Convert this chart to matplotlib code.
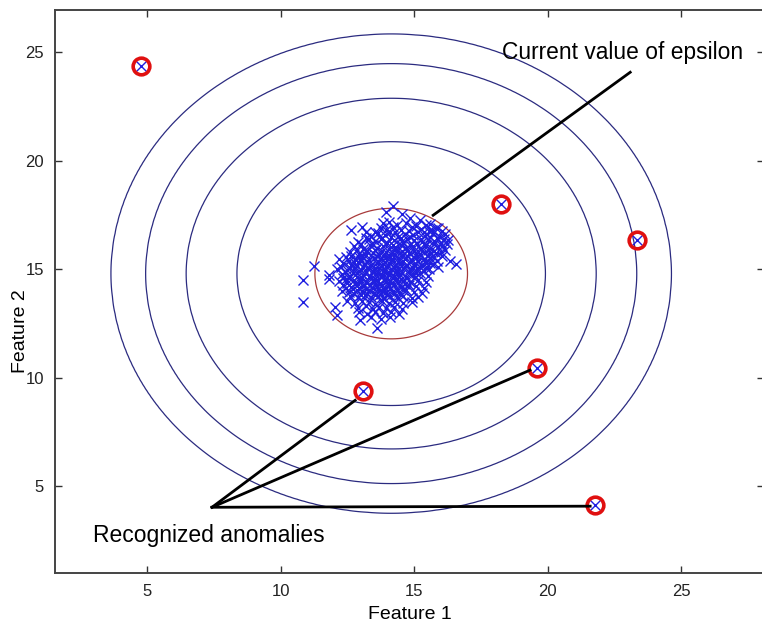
import numpy as np
import matplotlib
matplotlib.use("Agg")
import matplotlib.pyplot as plt

plt.rcParams['font.family'] = ['Liberation Sans', 'DejaVu Sans']

# Training examples (Feature 1, Feature 2)
cluster_x = [
    14.20,
    14.55, 13.95,
    14.05, 14.85, 15.20, 15.45,
    13.85, 14.35, 14.70, 15.05, 15.60, 15.90,
    12.65, 13.05, 13.20, 13.75, 14.20, 14.50, 14.90, 15.25, 15.55, 15.80, 16.05,
    13.40, 13.65, 13.90, 14.10, 14.40, 14.65, 14.95, 15.15, 15.40, 15.70, 15.95, 16.22,
    12.90, 13.30, 13.55, 13.80, 14.00, 14.25, 14.55, 14.75, 15.00, 15.30, 15.50, 15.75, 16.00, 16.25,
    12.75, 13.10, 13.35, 13.60, 13.85, 14.05, 14.30, 14.50, 14.70, 14.95, 15.20, 15.45, 15.65, 15.90, 16.15,
    12.60, 12.95, 13.20, 13.45, 13.70, 13.95, 14.15, 14.35, 14.60, 14.80, 15.05, 15.30, 15.55, 15.80, 16.05,
    12.20, 12.45, 12.80, 13.05, 13.30, 13.50, 13.75, 13.95, 14.20, 14.40, 14.65, 14.90, 15.10, 15.35, 15.60, 15.85, 16.35,
    11.25, 12.35, 12.65, 12.90, 13.15, 13.40, 13.60, 13.85, 14.05, 14.30, 14.50, 14.75, 15.00, 15.25, 15.45, 15.70, 16.55,
    12.10, 12.50, 12.75, 13.00, 13.25, 13.45, 13.70, 13.90, 14.15, 14.35, 14.60, 14.85, 15.10, 15.35, 15.55, 15.90,
    11.80, 12.30, 12.60, 12.85, 13.10, 13.35, 13.55, 13.80, 14.00, 14.25, 14.45, 14.70, 14.95, 15.20, 15.50,
    10.85, 11.80, 12.20, 12.45, 12.70, 12.95, 13.20, 13.45, 13.65, 13.90, 14.10, 14.35, 14.60, 14.85, 15.15, 15.45,
    12.35, 12.65, 12.90, 13.10, 13.35, 13.60, 13.80, 14.05, 14.25, 14.50, 14.80, 15.05, 15.35,
    12.30, 12.55, 12.85, 13.05, 13.30, 13.50, 13.75, 13.95, 14.20, 14.45, 14.70, 15.00, 15.30,
    12.60, 12.90, 13.15, 13.40, 13.65, 13.85, 14.10, 14.35, 14.60, 14.90, 15.15,
    10.85, 12.50, 12.80, 13.05, 13.30, 13.55, 13.80, 14.05, 14.30, 14.60, 14.90,
    12.05, 12.90, 13.20, 13.45, 13.70, 13.95, 14.25, 14.55,
    12.95, 13.25, 13.55, 13.85, 14.15, 14.45,
    12.10, 12.98, 13.40, 13.75, 14.10,
    13.60,
    13.55, 13.95, 14.30, 14.80, 15.35, 15.65, 16.15,
    13.20, 13.75, 14.15, 14.50, 14.85, 15.25, 15.60, 15.85, 16.10,
    13.00, 13.45, 13.95, 14.20, 14.60, 14.85, 15.10, 15.40, 15.75, 16.05,
    12.85, 13.25, 13.55, 13.80, 14.25, 14.55, 14.75, 15.00, 15.25, 15.50, 15.75, 16.00,
    12.65, 12.95, 13.20, 13.60, 13.85, 14.10, 14.30, 14.55, 14.75, 15.00, 15.25, 15.50, 15.75,
    12.55, 12.75, 13.00, 13.25, 13.65, 13.90, 14.15, 14.40, 14.60, 14.85, 15.15, 15.40, 15.60,
    12.25, 12.60, 12.85, 13.10, 13.35, 13.55, 13.80, 14.00, 14.25, 14.45, 14.70, 14.95, 15.20, 15.45,
    12.40, 12.70, 12.95, 13.20, 13.45, 13.65, 13.85, 14.10, 14.30, 14.55, 14.80, 15.05,
    12.35, 12.55, 12.85, 13.05, 13.30, 13.55, 13.75, 14.00, 14.20, 14.50, 14.75, 15.00,
    12.50, 12.80, 13.00, 13.25, 13.50, 13.70, 13.95, 14.15, 14.40, 14.65,
    12.45, 12.70, 12.95, 13.20, 13.45, 13.65, 13.90, 14.10, 14.35, 14.60,
    12.75, 13.00, 13.25, 13.55, 13.75, 14.00, 14.25, 14.50,
]
cluster_y = [
    17.90,
    17.55, 17.62,
    17.20, 17.35, 17.25, 17.05,
    17.12, 17.02, 17.15, 16.98, 17.08, 16.90,
    16.80, 16.95, 16.71, 16.88, 16.93, 16.82, 16.97, 16.86, 16.78, 16.92, 16.75,
    16.55, 16.68, 16.60, 16.72, 16.50, 16.63, 16.57, 16.70, 16.52, 16.66, 16.48, 16.18,
    16.25, 16.38, 16.30, 16.42, 16.22, 16.35, 16.28, 16.40, 16.33, 16.24, 16.37, 16.31, 16.20, 16.35,
    16.05, 15.95, 16.10, 15.98, 16.08, 15.92, 16.02, 16.12, 15.96, 16.06, 15.99, 16.11, 15.94, 16.04, 15.90,
    15.78, 15.70, 15.82, 15.74, 15.68, 15.80, 15.72, 15.85, 15.66, 15.77, 15.71, 15.83, 15.69, 15.76, 15.62,
    15.45, 15.55, 15.48, 15.58, 15.42, 15.52, 15.47, 15.56, 15.44, 15.53, 15.49, 15.41, 15.57, 15.46, 15.51, 15.40, 15.38,
    15.15, 15.28, 15.20, 15.32, 15.24, 15.18, 15.30, 15.22, 15.27, 15.16, 15.29, 15.21, 15.26, 15.19, 15.31, 15.23, 15.25,
    15.02, 14.95, 15.06, 14.98, 15.04, 14.92, 15.08, 14.97, 15.03, 14.93, 15.05, 14.99, 15.07, 14.94, 15.01, 15.10,
    14.72, 14.78, 14.70, 14.82, 14.74, 14.68, 14.80, 14.73, 14.85, 14.71, 14.79, 14.66, 14.76, 14.81, 14.70,
    14.49, 14.57, 14.45, 14.55, 14.48, 14.58, 14.42, 14.52, 14.46, 14.56, 14.44, 14.53, 14.47, 14.40, 14.51, 14.43,
    14.28, 14.20, 14.30, 14.22, 14.26, 14.18, 14.29, 14.24, 14.32, 14.19, 14.27, 14.21, 14.15,
    14.02, 13.95, 14.05, 13.98, 14.03, 13.92, 14.06, 13.97, 14.01, 13.94, 14.04, 13.96, 13.90,
    13.78, 13.72, 13.80, 13.70, 13.76, 13.68, 13.79, 13.73, 13.75, 13.66, 13.71,
    13.49, 13.52, 13.45, 13.55, 13.48, 13.42, 13.53, 13.46, 13.50, 13.44, 13.47,
    13.26, 13.22, 13.30, 13.18, 13.27, 13.21, 13.25, 13.17,
    13.02, 12.95, 13.05, 12.98, 13.03, 12.92,
    12.88, 12.65, 12.78, 12.72, 12.80,
    12.27,
    16.74, 16.79, 16.70, 16.77, 16.72, 16.80, 16.62,
    16.46, 16.41, 16.49, 16.43, 16.47, 16.40, 16.50, 16.44, 16.38,
    16.16, 16.12, 16.18, 16.14, 16.19, 16.11, 16.17, 16.13, 16.15, 16.08,
    15.88, 15.84, 15.91, 15.86, 15.89, 15.83, 15.90, 15.85, 15.92, 15.87, 15.82, 15.80,
    15.62, 15.58, 15.65, 15.60, 15.63, 15.57, 15.64, 15.59, 15.61, 15.56, 15.66, 15.60, 15.55,
    15.38, 15.34, 15.40, 15.36, 15.39, 15.33, 15.41, 15.35, 15.37, 15.32, 15.39, 15.35, 15.30,
    15.12, 15.08, 15.14, 15.10, 15.13, 15.07, 15.15, 15.09, 15.11, 15.06, 15.13, 15.08, 15.12, 15.05,
    14.88, 14.84, 14.90, 14.86, 14.89, 14.83, 14.91, 14.85, 14.87, 14.82, 14.88, 14.84,
    14.62, 14.58, 14.64, 14.60, 14.63, 14.57, 14.65, 14.59, 14.61, 14.56, 14.62, 14.58,
    14.38, 14.34, 14.40, 14.36, 14.39, 14.33, 14.41, 14.35, 14.37, 14.32,
    14.12, 14.08, 14.14, 14.10, 14.13, 14.07, 14.15, 14.09, 14.11, 14.06,
    13.85, 13.81, 13.87, 13.83, 13.86, 13.80, 13.88, 13.82,
]

# Examples flagged as anomalies
anomaly_x = [4.78, 18.26, 23.35, 13.09, 19.61, 21.78]
anomaly_y = [24.35, 18.00, 16.34, 9.38, 10.44, 4.12]

# Fitted Gaussian parameters and contour levels
mu = [14.14, 14.80]
var = [1.85, 2.05]
level_exponents = [-14, -11, -8, -5]
epsilon = 9.0e-3

# Density on a grid
g1, g2 = np.meshgrid(np.arange(0, 35.01, 0.1), np.arange(0, 35.01, 0.1))
Z = (np.exp(-0.5 * ((g1 - mu[0]) ** 2 / var[0] + (g2 - mu[1]) ** 2 / var[1]))
     / (2 * np.pi * np.sqrt(var[0] * var[1])))

fig = plt.figure(figsize=(7.62, 6.28), dpi=100)
ax = fig.add_axes([55 / 762, 1 - 573 / 628, (764 - 55) / 762, (573 - 10) / 628])

ax.contour(g1, g2, Z, levels=[10.0 ** e for e in level_exponents],
           colors='#2b2b80', linewidths=0.9)
ax.contour(g1, g2, Z, levels=[epsilon], colors='#a83a3a', linewidths=0.9)

ax.plot(cluster_x, cluster_y, 'x', color='#1f1fe0', markersize=7, markeredgewidth=1.0)
ax.plot(anomaly_x, anomaly_y, 'x', color='#1f1fe0', markersize=7, markeredgewidth=1.0)
ax.plot(anomaly_x, anomaly_y, 'o', markerfacecolor='none', markeredgecolor='#e01010',
        markersize=12, markeredgewidth=2.6)

# Annotation leader lines
ax.plot([23.09, 15.71], [24.08, 17.49], color='black', linewidth=2)
origin = (7.43, 4.03)
for tx, ty in [(12.79, 8.96), (19.34, 10.35), (21.59, 4.08)]:
    ax.plot([origin[0], tx], [origin[1], ty], color='black', linewidth=2)

ax.text(18.3, 25.0, 'Current value of epsilon', fontsize=16.4, va='center', ha='left')
ax.text(2.98, 2.74, 'Recognized anomalies', fontsize=16.5, va='center', ha='left')

ax.set_xlim(1.55, 28.1)
ax.set_ylim(1.0, 26.95)
ax.set_xticks([5, 10, 15, 20, 25])
ax.set_yticks([5, 10, 15, 20, 25])
ax.tick_params(direction='in', top=True, right=True, length=5, width=1,
               labelsize=12, colors='#333333', labelcolor='#222222', pad=8)
for s in ax.spines.values():
    s.set_color('#444444')
    s.set_linewidth(1.4)

ax.set_xlabel('Feature 1', fontsize=14, labelpad=5)
ax.set_ylabel('Feature 2', fontsize=14)
ax.yaxis.set_label_coords(-0.037, 0.43)

fig.savefig('out.png', dpi=100)
